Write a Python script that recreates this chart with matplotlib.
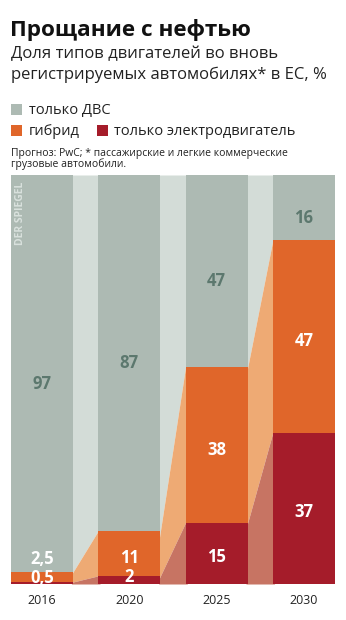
import matplotlib
matplotlib.use("Agg")
import matplotlib.pyplot as plt
import numpy as np

years = ["2016", "2020", "2025", "2030"]
ice = [97, 87, 47, 16]
hybrid = [2.5, 11, 38, 47]
electric = [0.5, 2, 15, 37]
ice_labels = ["97", "87", "47", "16"]
hybrid_labels = ["2,5", "11", "38", "47"]
electric_labels = ["0,5", "2", "15", "37"]

C_GREY = "#adbab3"
C_ORANGE = "#e0662a"
C_RED = "#a51c2a"
C_GREY_L = "#d3dcd7"
C_ORANGE_L = "#eeaa74"
C_RED_L = "#c77463"
C_TXT_GREY = "#5c786e"

plt.rcParams['font.family'] = ['Open Sans', 'DejaVu Sans']

W, H = 346, 620
fig = plt.figure(figsize=(W / 100, H / 100), dpi=100)
fig.patch.set_facecolor("white")

ax_l, ax_r, ax_t, ax_b = 11, 335, 175, 584
ax = fig.add_axes([ax_l / W, 1 - ax_b / H, (ax_r - ax_l) / W, (ax_b - ax_t) / H])

n = len(years)
x = np.arange(n)
w = 62 / 87
e = np.array(electric, float)
h = np.array(hybrid, float)
top_e = e
top_h = e + h

# connecting bands (slightly overlapping the bars to avoid seams)
ov = 0.02
for i in range(n - 1):
    x0, x1 = x[i] + w / 2, x[i + 1] - w / 2
    xs = [x0 - ov, x1 + ov]
    def lerp(a, b):
        s = (b - a) / (x1 - x0)
        return [a - s * ov, b + s * ov]
    ax.fill_between(xs, lerp(top_h[i], top_h[i + 1]), [100, 100], color=C_GREY_L, lw=0)
    ax.fill_between(xs, lerp(top_e[i], top_e[i + 1]), lerp(top_h[i], top_h[i + 1]), color=C_ORANGE_L, lw=0)
    ax.fill_between(xs, [0, 0], lerp(top_e[i], top_e[i + 1]), color=C_RED_L, lw=0)

ax.bar(x, e, width=w, color=C_RED, lw=0)
ax.bar(x, h, width=w, bottom=e, color=C_ORANGE, lw=0)
ax.bar(x, 100 - top_h, width=w, bottom=top_h, color=C_GREY, lw=0)

ax.set_xlim(-w / 2, n - 1 + w / 2)
ax.set_ylim(0, 100)
ax.axis("off")

lab_kw = dict(ha="center", va="center", fontsize=12, fontweight="bold")
for i in range(n):
    ax.text(x[i], (top_h[i] + 100) / 2 - 2.5, ice_labels[i], color=C_TXT_GREY, **lab_kw)
    if i == 0:
        ax.text(x[i], top_h[i] + 3.0, hybrid_labels[i], color="white", **lab_kw)
        ax.text(x[i], 1.5, electric_labels[i], color="white", **lab_kw)
    else:
        ax.text(x[i], (top_e[i] + top_h[i]) / 2 - 1.2, hybrid_labels[i], color="white", **lab_kw)
        ax.text(x[i], max(top_e[i] / 2 - 0.8, 1.7), electric_labels[i], color="white", **lab_kw)
    ax.text(x[i], -4.1, years[i], ha="center", va="center", fontsize=9, color="#222222")

ax.text(x[0] - w / 2 + 0.105, 90.7, "DER SPIEGEL", rotation=90, ha="center", va="center",
        fontsize=7.5, fontweight="bold", color="#d9e1dd")

# titles
def ftxt(px, py, s, **kw):
    fig.text(px / W, 1 - py / H, s, **kw)

ftxt(10, 36, "Прощание с нефтью", fontsize=16.2, fontweight="bold", color="#111111", va="baseline")
ftxt(11, 58, "Доля типов двигателей во вновь", fontsize=12, color="#222222", va="baseline")
ftxt(11, 79, "регистрируемых автомобилях* в ЕС, %", fontsize=12, color="#222222", va="baseline")

# legend
def sq(px, py, c):
    fig.patches.append(plt.Rectangle((px / W, 1 - (py + 11) / H), 11 / W, 11 / H,
                                     transform=fig.transFigure, color=c, lw=0))

sq(11, 104, C_GREY)
ftxt(29, 114, "только ДВС", fontsize=10.5, color="#222222", va="baseline")
sq(11, 125, C_ORANGE)
ftxt(29, 135, "гибрид", fontsize=10.5, color="#222222", va="baseline")
sq(97, 125, C_RED)
ftxt(114, 135, "только электродвигатель", fontsize=10.5, color="#222222", va="baseline")

ftxt(11, 156, "Прогноз: PwC; * пассажирские и легкие коммерческие", fontsize=7.5, color="#222222", va="baseline")
ftxt(11, 167, "грузовые автомобили.", fontsize=7.5, color="#222222", va="baseline")

fig.savefig("out.png", dpi=100, facecolor="white")
